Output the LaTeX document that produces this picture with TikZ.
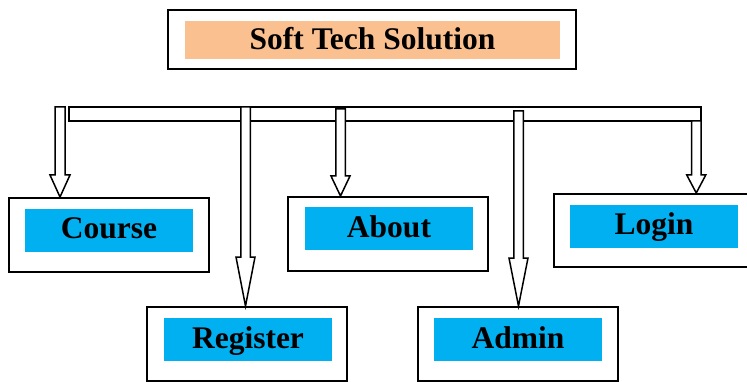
\documentclass[tikz,border=0pt]{standalone}
\usepackage{fontspec}
\setmainfont{Liberation Serif}
\usetikzlibrary{calc}
\definecolor{boxcyan}{HTML}{00B0F0}
\definecolor{titleorange}{HTML}{FAC090}
\tikzset{
  outerbox/.style={draw=black, line width=2pt, fill=white, minimum width=200pt, minimum height=74pt, inner sep=0pt},
  labelbox/.style={fill=boxcyan, minimum width=168pt, minimum height=43pt, inner sep=0pt,
                   text height=23pt, text depth=6pt,
                   font=\fontsize{31.5}{31.5}\selectfont\bfseries},
  titlelabel/.style={fill=titleorange, minimum width=375pt, minimum height=38pt, inner sep=0pt,
                   text height=24pt, text depth=4pt,
                   font=\fontsize{31.5}{31.5}\selectfont\bfseries},
  arrowline/.style={draw=black, line width=1.5pt, fill=white, line join=miter},
}
\newcommand\hollowarrow[5]{%
  \draw[arrowline] (#1-#4,#2) -- (#1+#4,#2) -- (#1+#4,#3) -- (#1+2*#4,#3)
    -- (#1,0 |- #5.north) -- (#1-2*#4,#3) -- (#1-#4,#3) -- cycle;}
\begin{document}
\begin{tikzpicture}[x=1pt,y=-1pt]
\useasboundingbox (0,0) rectangle (747,382);
\clip (0,0) rectangle (747,382);
% title
\node[outerbox, minimum width=408pt, minimum height=59pt] (title) at (372,39.5) {};
\node[titlelabel] (titlelbl) at (372.5,40) {Soft Tech Solution};
% boxes
\node[outerbox] (course) at (108.5,235) {};
\node[labelbox] (courselbl) at (109,230.5) {Course};
\node[outerbox] (about) at (388,234) {};
\node[labelbox] (aboutlbl) at (389,228.5) {About};
\node[outerbox, minimum height=73pt] (login) at (654,230.5) {};
\node[labelbox] (loginlbl) at (654,226.5) {Login};
\node[outerbox] (register) at (247,344) {};
\node[labelbox] (registerlbl) at (248,339.5) {Register};
\node[outerbox] (admin) at (518,344) {};
\node[labelbox] (adminlbl) at (518,339.5) {Admin};
% bus bar
\coordinate (barleft) at (69,107);
\coordinate (barright) at (701,121);
\draw[arrowline] (barleft) rectangle (barright);
% arrows
\hollowarrow{60}{107}{175}{5}{course}
\hollowarrow{245.5}{107}{257}{4.75}{register}
\hollowarrow{340.5}{109}{176}{4.75}{about}
\hollowarrow{518.5}{111}{258}{4.75}{admin}
\hollowarrow{696.25}{121}{175}{4.75}{login}
\end{tikzpicture}
\end{document}
